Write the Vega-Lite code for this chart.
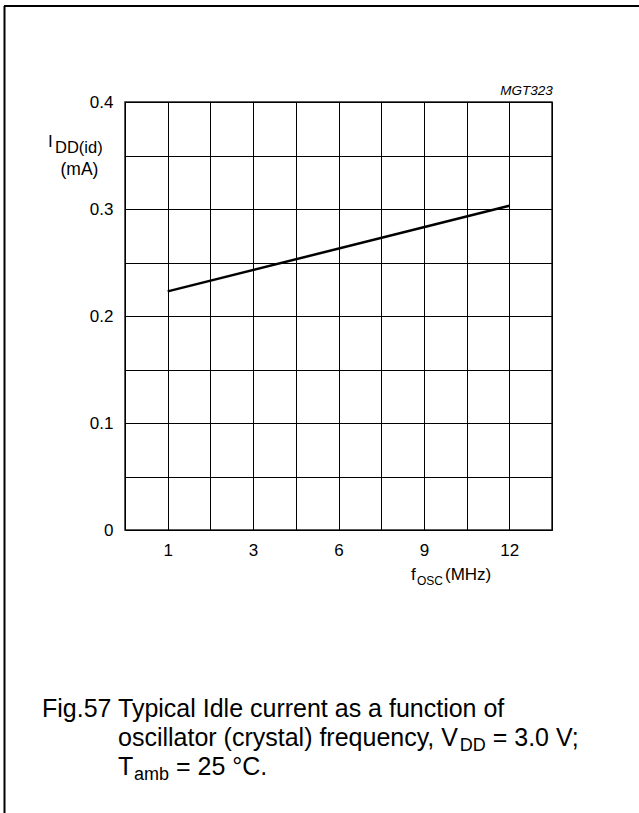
{
  "$schema": "https://vega.github.io/schema/vega-lite/v6.json",
  "width": 427,
  "height": 428,
  "autosize": {"type": "none"},
  "padding": {"left": 125, "top": 102, "right": 87, "bottom": 283},
  "background": "white",
  "config": {
    "view": {"stroke": "#222", "strokeWidth": 1.5},
    "font": "Liberation Sans",
    "text": {"font": "Liberation Sans", "color": "black"}
  },
  "layer": [
    {
      "data": {"values": [
        {"pos": 1, "f_MHz": 1, "I_mA": 0.223},
        {"pos": 9, "f_MHz": 12, "I_mA": 0.303}
      ]},
      "mark": {"type": "line", "color": "black", "strokeWidth": 2.5},
      "encoding": {
        "x": {"field": "pos", "type": "quantitative",
          "scale": {"domain": [0, 10], "nice": false, "zero": false},
          "axis": {"values": [0,1,2,3,4,5,6,7,8,9,10], "grid": true, "gridColor": "black", "gridWidth": 1, "gridOpacity": 1,
            "ticks": false, "domain": false, "title": null,
            "labelExpr": "datum.value==1?'1':datum.value==3?'3':datum.value==5?'6':datum.value==7?'9':datum.value==9?'12':''",
            "labelFont": "Liberation Sans", "labelFontSize": 17, "labelColor": "black", "labelPadding": 12}},
        "y": {"field": "I_mA", "type": "quantitative",
          "scale": {"domain": [0, 0.4], "nice": false, "zero": false},
          "axis": {"values": [0,0.05,0.1,0.15,0.2,0.25,0.3,0.35,0.4], "grid": true, "gridColor": "black", "gridWidth": 1, "gridOpacity": 1,
            "ticks": false, "domain": false, "title": null,
            "labelExpr": "round(datum.value*100)%10==0 ? (datum.value==0 ? '0' : format(datum.value,'.1f')) : ''",
            "labelFont": "Liberation Sans", "labelFontSize": 17, "labelColor": "black", "labelPadding": 12}}
      }
    },
    {
      "data": {"values": [{"k": 1}]},
      "mark": {"type": "rule", "color": "black", "strokeWidth": 2},
      "encoding": {"x": {"datum": -2.834, "type": "quantitative"}, "x2": {"datum": 12.037}, "y": {"datum": 0.48972, "type": "quantitative"}}
    },
    {
      "data": {"values": [{"k": 1}]},
      "mark": {"type": "rule", "color": "black", "strokeWidth": 2},
      "encoding": {"x": {"datum": -2.822, "type": "quantitative"}, "y": {"datum": 0.48972, "type": "quantitative"}, "y2": {"datum": -0.26449}}
    },
    {
      "data": {"values": [{"label": "MGT323"}]},
      "mark": {"type": "text", "align": "right", "baseline": "alphabetic", "fontSize": 13.5, "fontStyle": "italic"},
      "encoding": {"text": {"field": "label"}, "x": {"datum": 10.02, "type": "quantitative"}, "y": {"datum": 0.40654, "type": "quantitative"}}
    },
    {
      "data": {"values": [{"label": "I"}]},
      "mark": {"type": "text", "align": "left", "baseline": "alphabetic", "fontSize": 17},
      "encoding": {"text": {"field": "label"}, "x": {"datum": -1.8033, "type": "quantitative"}, "y": {"datum": 0.35794, "type": "quantitative"}}
    },
    {
      "data": {"values": [{"label": "DD(id)"}]},
      "mark": {"type": "text", "align": "left", "baseline": "alphabetic", "fontSize": 16.5},
      "encoding": {"text": {"field": "label"}, "x": {"datum": -1.6393, "type": "quantitative"}, "y": {"datum": 0.35234, "type": "quantitative"}}
    },
    {
      "data": {"values": [{"label": "(mA)"}]},
      "mark": {"type": "text", "align": "center", "baseline": "alphabetic", "fontSize": 17.5},
      "encoding": {"text": {"field": "label"}, "x": {"datum": -1.0656, "type": "quantitative"}, "y": {"datum": 0.33224, "type": "quantitative"}}
    },
    {
      "data": {"values": [{"label": "f"}]},
      "mark": {"type": "text", "align": "left", "baseline": "alphabetic", "fontSize": 17},
      "encoding": {"text": {"field": "label"}, "x": {"datum": 6.6979, "type": "quantitative"}, "y": {"datum": -0.04673, "type": "quantitative"}}
    },
    {
      "data": {"values": [{"label": "OSC"}]},
      "mark": {"type": "text", "align": "left", "baseline": "alphabetic", "fontSize": 12},
      "encoding": {"text": {"field": "label"}, "x": {"datum": 6.8384, "type": "quantitative"}, "y": {"datum": -0.0514, "type": "quantitative"}}
    },
    {
      "data": {"values": [{"label": "(MHz)"}]},
      "mark": {"type": "text", "align": "left", "baseline": "alphabetic", "fontSize": 17},
      "encoding": {"text": {"field": "label"}, "x": {"datum": 7.4941, "type": "quantitative"}, "y": {"datum": -0.04673, "type": "quantitative"}}
    },
    {
      "data": {"values": [{"label": "Fig.57"}]},
      "mark": {"type": "text", "align": "left", "baseline": "alphabetic", "fontSize": 25},
      "encoding": {"text": {"field": "label"}, "x": {"datum": -1.9438, "type": "quantitative"}, "y": {"datum": -0.17477, "type": "quantitative"}}
    },
    {
      "data": {"values": [{"label": "Typical Idle current as a function of"}]},
      "mark": {"type": "text", "align": "left", "baseline": "alphabetic", "fontSize": 25},
      "encoding": {"text": {"field": "label"}, "x": {"datum": -0.1639, "type": "quantitative"}, "y": {"datum": -0.17477, "type": "quantitative"}}
    },
    {
      "data": {"values": [{"label": "oscillator (crystal) frequency, V"}]},
      "mark": {"type": "text", "align": "left", "baseline": "alphabetic", "fontSize": 25},
      "encoding": {"text": {"field": "label"}, "x": {"datum": -0.1639, "type": "quantitative"}, "y": {"datum": -0.20187, "type": "quantitative"}}
    },
    {
      "data": {"values": [{"label": "DD"}]},
      "mark": {"type": "text", "align": "left", "baseline": "alphabetic", "fontSize": 18},
      "encoding": {"text": {"field": "label"}, "x": {"datum": 7.8384, "type": "quantitative"}, "y": {"datum": -0.20654, "type": "quantitative"}}
    },
    {
      "data": {"values": [{"label": "= 3.0 V;"}]},
      "mark": {"type": "text", "align": "left", "baseline": "alphabetic", "fontSize": 25},
      "encoding": {"text": {"field": "label"}, "x": {"datum": 8.6112, "type": "quantitative"}, "y": {"datum": -0.20187, "type": "quantitative"}}
    },
    {
      "data": {"values": [{"label": "T"}]},
      "mark": {"type": "text", "align": "left", "baseline": "alphabetic", "fontSize": 25},
      "encoding": {"text": {"field": "label"}, "x": {"datum": -0.1639, "type": "quantitative"}, "y": {"datum": -0.22897, "type": "quantitative"}}
    },
    {
      "data": {"values": [{"label": "amb"}]},
      "mark": {"type": "text", "align": "left", "baseline": "alphabetic", "fontSize": 18},
      "encoding": {"text": {"field": "label"}, "x": {"datum": 0.2108, "type": "quantitative"}, "y": {"datum": -0.23364, "type": "quantitative"}}
    },
    {
      "data": {"values": [{"label": "= 25 °C."}]},
      "mark": {"type": "text", "align": "left", "baseline": "alphabetic", "fontSize": 25},
      "encoding": {"text": {"field": "label"}, "x": {"datum": 1.1944, "type": "quantitative"}, "y": {"datum": -0.22897, "type": "quantitative"}}
    }
  ]
}
